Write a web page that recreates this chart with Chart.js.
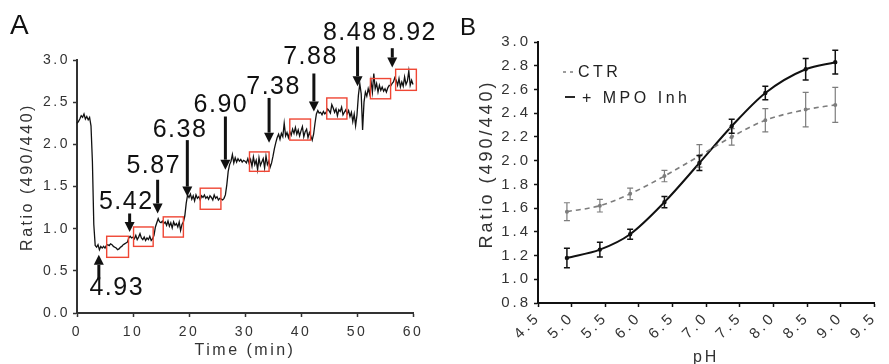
<!DOCTYPE html>
<html><head><meta charset="utf-8">
<script src="https://cdn.jsdelivr.net/npm/chart.js@4.4.1/dist/chart.umd.min.js"></script>
<style>
html,body{margin:0;padding:0;background:#fff;}
body{width:889px;height:364px;position:relative;overflow:hidden;font-family:'Liberation Sans',Arial,sans-serif;}
.panel{position:absolute;top:0;}
.panel canvas{display:block;}
#pa{left:0;width:445px;height:364px;}
#pb{left:445px;width:444px;height:364px;}
.letter{position:absolute;line-height:1;color:#111;font-family:'Liberation Sans',Arial,sans-serif;}
</style></head><body>
<div class="panel" id="pa"><canvas id="ca" width="445" height="364"></canvas></div>
<div class="panel" id="pb"><canvas id="cb" width="444" height="364"></canvas></div>
<div class="letter" style="left:10px;top:11px;font-size:28px">A</div>
<div class="letter" style="left:460px;top:15px;font-size:24px">B</div>
<script>
// ---------- Panel A data ----------
const traceStepMin = 0.25; // sampling interval of the recorded trace (min)
const traceRatio = [
2.25,2.27,2.30,2.34, 2.32,2.36,2.30,2.33, 2.29,2.32,2.22,1.80, 1.05,0.80,0.78,0.81,
0.75,0.79,0.77,0.79, 0.77,0.80,0.81,0.80, 0.82,0.81,0.79,0.78, 0.77,0.75,0.76,0.78,
0.79,0.81,0.82,0.83, 0.84,0.89,0.91,0.89, 0.90,0.88,0.92,0.87, 0.90,0.94,0.89,0.87,
0.90,0.86,0.89,0.87, 0.91,0.86,0.88,0.92, 1.02,1.07,1.12,1.08, 1.07,1.09,1.06,1.08,
1.04,1.09,1.03,1.07, 1.01,1.08,1.04,1.06, 1.02,1.08,0.98,1.05, 1.08,1.15,1.30,1.40,
1.37,1.41,1.35,1.39, 1.33,1.40,1.36,1.38, 1.34,1.39,1.37,1.40, 1.36,1.38,1.35,1.39,
1.37,1.34,1.40,1.36, 1.38,1.34,1.36,1.35, 1.34,1.36,1.40,1.52, 1.68,1.76,1.80,1.88,
1.78,1.84,1.79,1.83, 1.80,1.82,1.79,1.81, 1.80,1.78,1.83,1.77, 1.82,1.74,1.85,1.76,
1.81,1.70,1.84,1.75, 1.79,1.83,1.72,1.86, 1.76,1.80,1.73,1.78, 1.86,1.95,2.02,2.08,
2.12,2.06,2.13,2.09, 2.25,2.10,2.14,2.08, 2.15,2.11,2.18,2.13, 2.20,2.12,2.17,2.10,
2.16,2.21,2.09,2.15, 2.18,2.08,2.14,2.10, 2.05,2.12,2.25,2.36, 2.40,2.37,2.38,2.35,
2.39,2.36,2.38,2.42, 2.40,2.37,2.47,2.43, 2.38,2.42,2.34,2.41, 2.39,2.44,2.35,2.38,
2.41,2.36,2.40,2.33, 2.38,2.27,2.36,2.22, 2.35,2.58,2.72,2.60, 2.17,2.50,2.62,2.57,
2.66,2.60,2.75,2.62, 2.84,2.66,2.72,2.62, 2.70,2.64,2.68,2.63, 2.66,2.62,2.67,2.70,
2.69,2.72,2.74,2.79, 2.76,2.70,2.78,2.68, 2.74,2.69,2.80,2.71, 2.75,2.87,2.70,2.76,
2.71
];
const pHLevels   = [4.93, 5.42, 5.87, 6.38, 6.90, 7.38, 7.88, 8.48, 8.92];
const arrowTime  = [3.9, 9.4, 14.4, 19.7, 26.5, 34.3, 42.3, 50.1, 56.3];
const arrowTip   = [0.69, 0.96, 1.18, 1.38, 1.70, 2.02, 2.39, 2.69, 2.91];
const arrowTail  = [0.40, 1.18, 1.58, 2.05, 2.33, 2.55, 2.84, 3.16, 3.14];
const labelTime  = [7.1, 8.8, 13.7, 18.4, 25.7, 35.1, 41.7, 48.8, 59.4];
const labelRatio = [0.29, 1.32, 1.74, 2.17, 2.47, 2.68, 3.04, 3.32, 3.32];
const boxStart = [5.3, 10.1, 15.4, 22.0, 30.8, 38.0, 44.6, 52.4, 56.9];
const boxEnd   = [9.2, 13.6, 19.0, 25.7, 34.3, 41.7, 48.2, 56.0, 60.6];
const boxLow   = [0.66, 0.79, 0.90, 1.23, 1.68, 2.05, 2.30, 2.54, 2.64];
const boxHigh  = [0.91, 1.02, 1.14, 1.48, 1.91, 2.30, 2.55, 2.78, 2.89];

// ---------- Panel B data ----------
const ctrMean = [1.57, 1.62, 1.72, 1.87, 2.04, 2.20, 2.34, 2.43, 2.47];
const ctrErr  = [0.075, 0.053, 0.048, 0.048, 0.095, 0.07, 0.098, 0.145, 0.148];
const mpoMean = [1.18, 1.25, 1.38, 1.65, 1.98, 2.29, 2.57, 2.77, 2.83];
const mpoErr  = [0.082, 0.063, 0.042, 0.048, 0.063, 0.059, 0.056, 0.091, 0.10];

const yTitle = 'Ratio (490/440)';
const FONT = "'Liberation Sans', Arial, sans-serif";
Chart.defaults.font.family = FONT;
Chart.defaults.color = '#333';

function spacing(px){ return { id:'spacing'+px, beforeDraw(c){ c.ctx.letterSpacing = px + 'px'; } }; }

function drawVTitle(ctx, text, x, y, size, sp){
  ctx.save();
  ctx.letterSpacing = sp + 'px';
  ctx.translate(x, y);
  ctx.rotate(-Math.PI/2);
  ctx.font = size + 'px ' + FONT;
  ctx.fillStyle = '#333';
  ctx.textAlign = 'center';
  ctx.textBaseline = 'middle';
  ctx.fillText(text, 0, 0);
  ctx.restore();
}

// ---------- Panel A ----------
const annotA = {
  id:'annotA',
  afterDatasetsDraw(c){
    const {ctx, scales:{x, y}} = c;
    ctx.save();
    // red boxes
    ctx.strokeStyle = '#ef4634';
    ctx.lineWidth = 1.4;
    for (let i=0;i<boxStart.length;i++){
      const x0 = x.getPixelForValue(boxStart[i]), x1 = x.getPixelForValue(boxEnd[i]);
      const y0 = y.getPixelForValue(boxHigh[i]), y1 = y.getPixelForValue(boxLow[i]);
      ctx.strokeRect(x0, y0, x1-x0, y1-y0);
    }
    // arrows
    ctx.strokeStyle = '#111'; ctx.fillStyle = '#111';
    for (let i=0;i<arrowTime.length;i++){
      const px = x.getPixelForValue(arrowTime[i]);
      const pt = y.getPixelForValue(arrowTip[i]);
      const pl = y.getPixelForValue(arrowTail[i]);
      const dir = pt > pl ? 1 : -1; // 1 = pointing down
      const head = 10, hw = 5;
      ctx.lineWidth = 3;
      ctx.beginPath(); ctx.moveTo(px, pl); ctx.lineTo(px, pt - dir*head); ctx.stroke();
      ctx.beginPath(); ctx.moveTo(px, pt); ctx.lineTo(px-hw, pt-dir*head); ctx.lineTo(px+hw, pt-dir*head); ctx.closePath(); ctx.fill();
    }
    // labels
    ctx.letterSpacing = '1.5px';
    ctx.font = '25px ' + FONT;
    ctx.textAlign = 'center'; ctx.textBaseline = 'middle';
    for (let i=0;i<pHLevels.length;i++){
      ctx.fillText(pHLevels[i].toFixed(2), x.getPixelForValue(labelTime[i]), y.getPixelForValue(labelRatio[i]));
    }
    ctx.restore();
    drawVTitle(ctx, yTitle, 28, 177, 16, 2.5);
  }
};

new Chart(document.getElementById('ca'), {
  type:'line',
  data:{ datasets:[{ label:'trace', data: traceRatio.map((v,i)=>({x:i*traceStepMin, y:v})),
    borderColor:'#111', borderWidth:1.3, pointRadius:0, tension:0, clip:false }]},
  options:{
    responsive:false, animation:false, events:[],
    layout:{padding:{left:0,right:32,top:60,bottom:0}},
    plugins:{legend:{display:false}, tooltip:{enabled:false}},
    scales:{
      x:{type:'linear', min:0, max:60,
        ticks:{stepSize:10, color:'#333', font:{size:14}, padding:7, maxRotation:0, autoSkip:false},
        grid:{display:true, drawOnChartArea:false, tickLength:4, tickColor:'#333', tickWidth:1.5},
        border:{color:'#333', width:2},
        title:{display:true, text:'Time (min)', color:'#333', font:{size:16}, padding:{top:0,bottom:4}},
        afterFit(s){ s.height = 51; }},
      y:{type:'linear', min:0, max:3,
        ticks:{stepSize:0.5, callback:v=>v.toFixed(1), color:'#333', font:{size:14}, padding:3},
        grid:{display:true, drawOnChartArea:false, tickLength:4, tickColor:'#333', tickWidth:1.5},
        border:{color:'#333', width:2},
        afterFit(s){ s.width = 77; }}
    }
  },
  plugins:[spacing(2.5), annotA]
});

// ---------- Panel B ----------
const annotB = {
  id:'annotB',
  afterDatasetsDraw(c){
    const {ctx, chartArea:a, scales:{x, y}} = c;
    ctx.save();
    c.data.datasets.forEach(ds=>{
      ctx.strokeStyle = ds.borderColor;
      ctx.lineWidth = ds.errWidth;
      ds.data.forEach((p,i)=>{
        const px = x.getPixelForValue(p.x);
        const t = y.getPixelForValue(p.y + ds.err[i]), b = y.getPixelForValue(p.y - ds.err[i]);
        ctx.beginPath();
        ctx.moveTo(px, t); ctx.lineTo(px, b);
        ctx.moveTo(px-3, t); ctx.lineTo(px+3, t);
        ctx.moveTo(px-3, b); ctx.lineTo(px+3, b);
        ctx.stroke();
      });
    });
    // legend
    const ds0 = c.data.datasets[0], ds1 = c.data.datasets[1];
    ctx.lineWidth = 1.5;
    ctx.strokeStyle = ds0.borderColor; ctx.setLineDash([3,4]);
    ctx.beginPath(); ctx.moveTo(a.left+25, a.top+30); ctx.lineTo(a.left+38, a.top+30); ctx.stroke();
    ctx.setLineDash([]);
    ctx.strokeStyle = ds1.borderColor; ctx.lineWidth = 1.8;
    ctx.beginPath(); ctx.moveTo(a.left+27, a.top+55); ctx.lineTo(a.left+37, a.top+55); ctx.stroke();
    ctx.letterSpacing = '3.5px';
    ctx.font = '16px ' + FONT; ctx.fillStyle = '#222';
    ctx.textAlign = 'left'; ctx.textBaseline = 'middle';
    ctx.fillText(ds0.label, a.left+40, a.top+31);
    ctx.fillText(ds1.label, a.left+44, a.top+57);
    ctx.restore();
    drawVTitle(ctx, yTitle, 42, 164, 18, 3);
  }
};

new Chart(document.getElementById('cb'), {
  type:'line',
  data:{ datasets:[
    { label:'CTR', data: pHLevels.map((p,i)=>({x:p, y:ctrMean[i]})), err: ctrErr, errWidth:1.2,
      borderColor:'#7d7d7d', backgroundColor:'#7d7d7d', borderWidth:1.6, borderDash:[5,4],
      pointRadius:1.2, cubicInterpolationMode:'monotone' },
    { label:'+ MPO Inh', data: pHLevels.map((p,i)=>({x:p, y:mpoMean[i]})), err: mpoErr, errWidth:1.5,
      borderColor:'#111', backgroundColor:'#111', borderWidth:2,
      pointRadius:1.2, cubicInterpolationMode:'monotone' }
  ]},
  options:{
    responsive:false, animation:false, events:[],
    layout:{padding:{left:0,right:2,top:42,bottom:0}},
    plugins:{legend:{display:false}, tooltip:{enabled:false}},
    scales:{
      x:{type:'linear', min:4.5, max:9.5,
        ticks:{stepSize:0.5, callback:v=>v.toFixed(1), color:'#333', font:{size:15}, padding:2, minRotation:45, maxRotation:45, autoSkip:false},
        grid:{display:true, drawOnChartArea:false, tickLength:4, tickColor:'#111', tickWidth:1.5},
        border:{color:'#111', width:2},
        title:{display:true, text:'pH', color:'#333', font:{size:16, lineHeight:1}, padding:{top:0,bottom:-2}},
        afterFit(s){ s.height = 61; }},
      y:{type:'linear', min:0.8, max:3.0,
        ticks:{stepSize:0.2, callback:v=>v.toFixed(1), color:'#333', font:{size:15}, padding:3},
        grid:{display:true, drawOnChartArea:false, tickLength:4, tickColor:'#111', tickWidth:1.5},
        border:{color:'#111', width:2},
        afterFit(s){ s.width = 93; }}
    }
  },
  plugins:[spacing(3), annotB]
});
</script>
</body></html>
